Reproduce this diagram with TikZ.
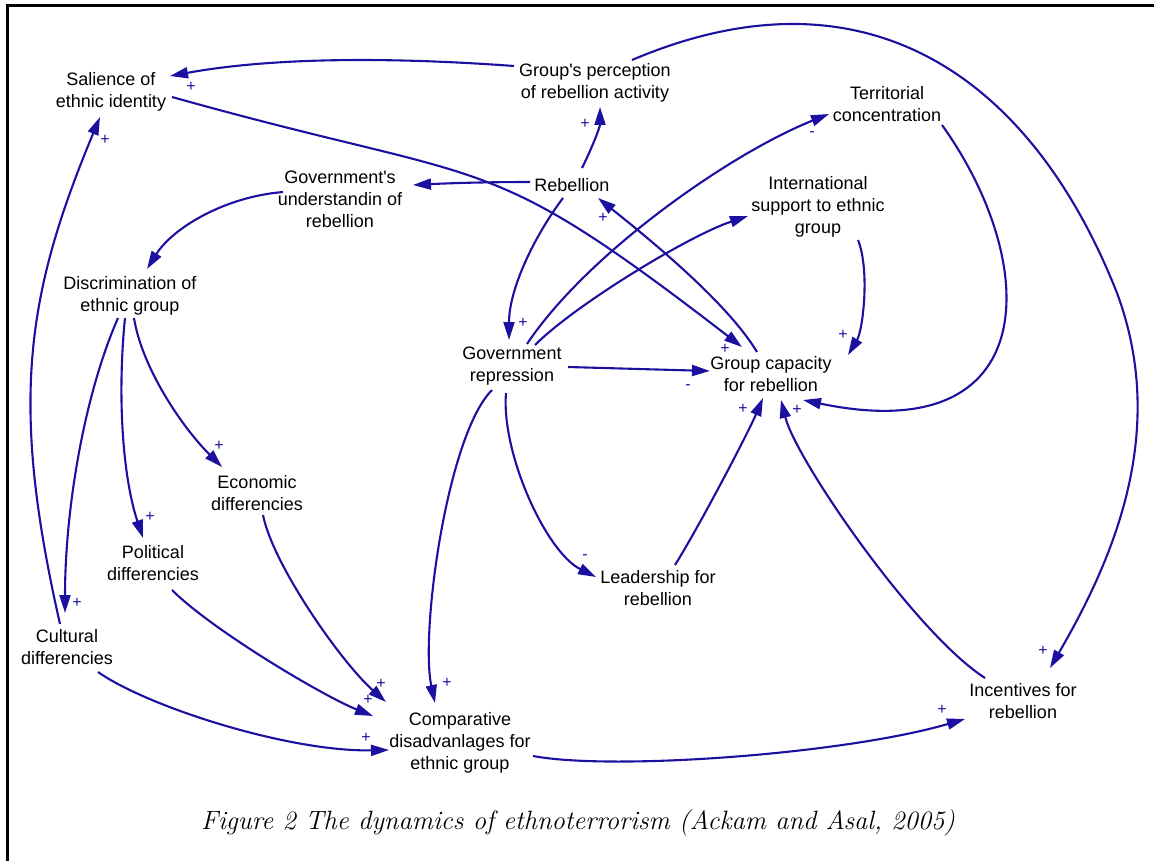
\documentclass[tikz,border=0pt]{standalone}
\usepackage{fontspec}
\newfontfamily\labelfont{Liberation Sans}
\usetikzlibrary{arrows.meta,calc}
\definecolor{linkblue}{RGB}{28,16,160}
\begin{document}
\begin{tikzpicture}[x=1pt,y=-1pt,
  var/.style={font=\labelfont\fontsize{18}{22}\selectfont, align=center, inner sep=0pt, text=black},
  link/.style={draw=linkblue, line width=2.1pt, -{Triangle[length=18pt,width=11pt]}},
  sgn/.style={font=\labelfont\fontsize{16}{16}\selectfont, text=linkblue, inner sep=0pt}]
\useasboundingbox (0,0) rectangle (1154,861);
% frame
\draw[line width=3pt] (7,861) -- (7,6) -- (1154,6);

% variables
\node[var] (sal)   at (111,92)  {Salience of\\ethnic identity};
\node[var] (gpr)   at (595,83)  {Group's perception\\of rebellion activity};
\node[var] (ter)   at (887,104) {Territorial\\concentration};
\node[var] (reb)   at (572,185) {Rebellion};
\node[var] (gov)   at (340,199) {Government's\\understandin of\\rebellion};
\node[var] (intl)  at (818,207) {International\\support to ethnic\\group};
\node[var] (disc)  at (130,296) {Discrimination of\\ethnic group};
\node[var] (rep)   at (512,366) {Government\\repression};
\node[var] (capac) at (771,374) {Group capacity\\for rebellion};
\node[var] (eco)   at (257,493) {Economic\\differencies};
\node[var] (pol)   at (153,563) {Political\\differencies};
\node[var] (lead)  at (658,588) {Leadership for\\rebellion};
\node[var] (cul)   at (67,647)  {Cultural\\differencies};
\node[var] (comp)  at (460,743) {Comparative\\disadvanlages for\\ethnic group};
\node[var] (inc)   at (1023,701) {Incentives for\\rebellion};

% causal links
\draw[link] ($(gpr)+(-81,-17)$) .. controls +(-110,-8) and +(110,-20) .. ($(sal)+(59,-16)$);
\draw[link] ($(gpr)+(37,-23)$) .. controls +(235,-100) and +(-85,-215) .. ($(inc)+(94,-408)$)
                               .. controls +(49,132) and +(70,-120) .. ($(inc)+(27,-33)$);
\draw[link] ($(sal)+(61,5)$) .. controls +(324,91) and +(-263,-203) .. ($(capac)+(-29,-27)$);
\draw[link] ($(capac)+(-14,-22)$) .. controls +(-30,-50) and +(50,40) .. ($(reb)+(26,13)$);
\draw[link] ($(reb)+(10,-17)$) .. controls +(10,-20) and +(0,20) .. ($(gpr)+(5,24)$);
\draw[link] ($(reb)+(-42,-3)$) .. controls +(-40,0) and +(40,-2) .. ($(gov)+(73,-14)$);
\draw[link] ($(reb)+(-9,13)$) .. controls +(-30,40) and +(0,-50) .. ($(rep)+(-3,-26)$);
\draw[link] ($(gov)+(-57,-7)$) .. controls +(-60,5) and +(25,-40) .. ($(disc)+(17,-27)$);
\draw[link] ($(cul)+(-7,-23)$) .. controls +(-50,-220) and +(-75,180) .. ($(sal)+(-11,25)$);
\draw[link] ($(disc)+(-12,22)$) .. controls +(-35,80) and +(0,-100) .. ($(cul)+(-2,-34)$);
\draw[link] ($(disc)+(-5,22)$) .. controls +(-8,80) and +(-20,-60) .. ($(pol)+(-10,-25)$);
\draw[link] ($(disc)+(4,22)$) .. controls +(8,50) and +(-40,-40) .. ($(eco)+(-35,-26)$);
\draw[link] ($(eco)+(6,22)$) .. controls +(10,50) and +(-45,-40) .. ($(comp)+(-74,-41)$);
\draw[link] ($(pol)+(19,27)$) .. controls +(40,40) and +(-50,-20) .. ($(comp)+(-87,-27)$);
\draw[link] ($(cul)+(31,25)$) .. controls +(50,35) and +(-100,2) .. ($(comp)+(-71,7)$);
\draw[link] ($(rep)+(-20,24)$) .. controls +(-45,45) and +(-15,-70) .. ($(comp)+(-25,-40)$);
\draw[link] ($(rep)+(56,1)$) -- ($(capac)+(-61,-3)$);
\draw[link] ($(rep)+(15,-22)$) .. controls +(60,-90) and +(-100,40) .. ($(ter)+(-58,10)$);
\draw[link] ($(rep)+(23,-21)$) .. controls +(40,-40) and +(-60,20) .. ($(intl)+(-70,9)$);
\draw[link] ($(rep)+(-6,27)$) .. controls +(-5,60) and +(-50,-25) .. ($(lead)+(-62,-11)$);
\draw[link] ($(lead)+(17,-23)$) .. controls +(25,-40) and +(-15,35) .. ($(capac)+(-8,24)$);
\draw[link] ($(inc)+(-38,-23)$) .. controls +(-70,-45) and +(15,60) .. ($(capac)+(10,26)$);
\draw[link] ($(ter)+(55,21)$) .. controls +(100,140) and +(240,50) .. ($(capac)+(32,26)$);
\draw[link] ($(intl)+(40,33)$) .. controls +(12,30) and +(15,-25) .. ($(capac)+(77,-19)$);
\draw[link] ($(comp)+(73,13)$) .. controls +(80,15) and +(-120,35) .. ($(inc)+(-58,18)$);

% polarity marks
\node[sgn] (p1)  at (191,87)  {+};
\node[sgn] (p2)  at (105,140) {+};
\node[sgn] (p3)  at (585,124) {+};
\node[sgn] (p4)  at (603,218) {+};
\node[sgn] (p5)  at (523,323) {+};
\node[sgn] (m1)  at (812,134) {-};
\node[sgn] (p6)  at (843,335) {+};
\node[sgn] (p7)  at (725,349) {+};
\node[sgn] (m2)  at (688,387) {-};
\node[sgn] (p8)  at (743,409) {+};
\node[sgn] (p9)  at (797,410) {+};
\node[sgn] (p10) at (219,446) {+};
\node[sgn] (p11) at (150,517) {+};
\node[sgn] (m3)  at (585,557) {-};
\node[sgn] (p12) at (77,603)  {+};
\node[sgn] (p13) at (381,684) {+};
\node[sgn] (p14) at (368,700) {+};
\node[sgn] (p15) at (366,738) {+};
\node[sgn] (p16) at (447,683) {+};
\node[sgn] (p17) at (1043,651) {+};
\node[sgn] (p18) at (942,710) {+};

% caption
\node[font=\fontsize{26.5}{31}\selectfont\itshape, inner sep=0pt] (caption) at (578,823)
  {Figure 2 The dynamics of ethnoterrorism (Ackam and Asal, 2005)};
\end{tikzpicture}
\end{document}
